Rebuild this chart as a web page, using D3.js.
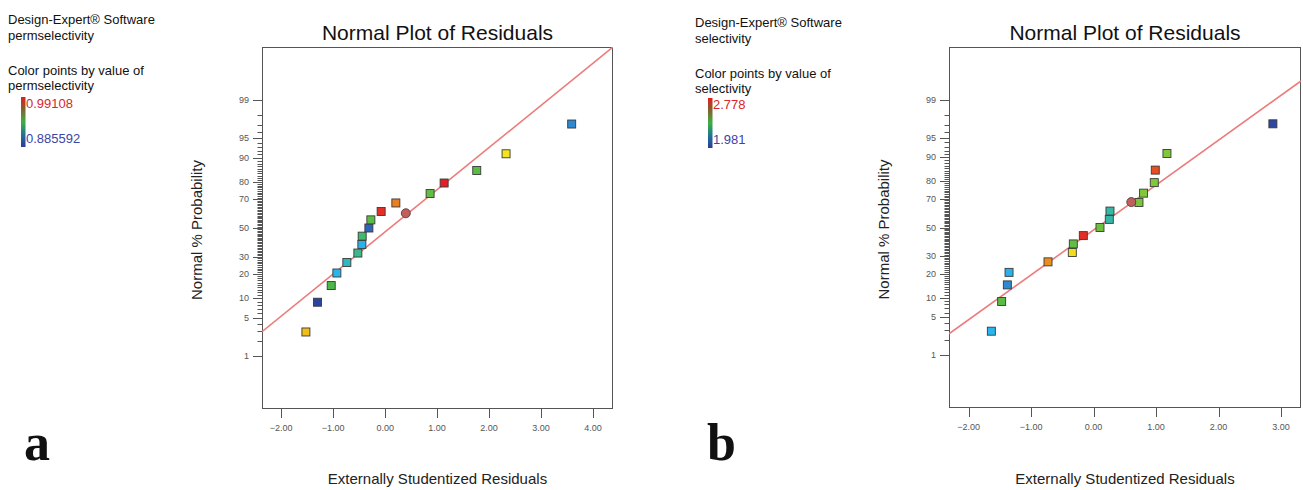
<!DOCTYPE html>
<html>
<head>
<meta charset="utf-8">
<script src="https://d3js.org/d3.v7.min.js"></script>
<style>
  html, body { margin: 0; padding: 0; background: #fff; }
  svg { display: block; }
</style>
</head>
<body>
<svg id="chart" width="1303" height="490"></svg>
<script>
// ---------- DATA ----------
const titleText = "Normal Plot of Residuals";
const xLabelText = "Externally Studentized Residuals";
const yLabelText = "Normal % Probability";
const probTicks = [1, 5, 10, 20, 30, 50, 70, 80, 90, 95, 99];

// Panel a : permselectivity
const xTicksA = [-2, -1, 0, 1, 2, 3, 4];
const residA = [-1.525, -1.302, -1.038, -0.929, -0.737, -0.525, -0.448, -0.442, -0.313, -0.275, -0.077, 0.206, 0.865, 1.135, 1.763, 2.327, 3.590];
const probA  = [2.9, 8.8, 14.7, 20.6, 26.5, 32.4, 38.2, 44.1, 50.0, 55.9, 61.8, 67.6, 73.5, 79.4, 85.3, 91.2, 97.1];
const valueA = [0.9700, 0.8877, 0.9383, 0.9120, 0.9193, 0.9278, 0.9109, 0.9320, 0.8961, 0.9404, 0.9890, 0.9784, 0.9415, 0.9911, 0.9404, 0.9647, 0.9035];
const circleResidA = [0.398];
const circleProbA = [60.6];
const lineA = [-0.07, 0.7685];           // z = intercept + slope * residual
const rangeA = [0.885592, 0.99108];
const legendA = ["Design-Expert\u00AE Software", "permselectivity", "Color points by value of", "permselectivity"];
const legendValsA = ["0.99108", "0.885592"];

// Panel b : selectivity
const xTicksB = [-2, -1, 0, 1, 2, 3];
const residB = [-1.637, -1.472, -1.381, -1.354, -0.730, -0.341, -0.325, -0.165, 0.102, 0.251, 0.262, 0.726, 0.800, 0.971, 0.987, 1.174, 2.870];
const probB  = [2.9, 8.8, 14.7, 20.6, 26.5, 32.4, 38.2, 44.1, 50.0, 55.9, 61.8, 67.6, 73.5, 79.4, 85.3, 91.2, 97.1];
const valueB = [2.180, 2.395, 2.117, 2.172, 2.666, 2.587, 2.403, 2.762, 2.419, 2.268, 2.268, 2.435, 2.443, 2.443, 2.730, 2.443, 2.005];
const circleResidB = [0.603];
const circleProbB = [67.9];
const lineB = [-0.045, 0.8204];
const rangeB = [1.981, 2.778];
const legendB = ["Design-Expert\u00AE Software", "selectivity", "Color points by value of", "selectivity"];
const legendValsB = ["2.778", "1.981"];

// ---------- HELPERS ----------
function probit(p) {
  // Acklam's inverse normal CDF approximation
  const a = [-3.969683028665376e+01, 2.209460984245205e+02, -2.759285104469687e+02, 1.383577518672690e+02, -3.066479806614716e+01, 2.506628277459239e+00];
  const b = [-5.447609879822406e+01, 1.615858368580409e+02, -1.556989798598866e+02, 6.680131188771972e+01, -1.328068155288572e+01];
  const c = [-7.784894002430293e-03, -3.223964580411365e-01, -2.400758277161838e+00, -2.549732539343734e+00, 4.374664141464968e+00, 2.938163982698783e+00];
  const d = [7.784695709041462e-03, 3.224671290700398e-01, 2.445134137142996e+00, 3.754408661907416e+00];
  const pl = 0.02425, ph = 1 - pl;
  let q, r;
  if (p < pl) {
    q = Math.sqrt(-2 * Math.log(p));
    return (((((c[0]*q+c[1])*q+c[2])*q+c[3])*q+c[4])*q+c[5]) / ((((d[0]*q+d[1])*q+d[2])*q+d[3])*q+1);
  } else if (p <= ph) {
    q = p - 0.5; r = q * q;
    return (((((a[0]*r+a[1])*r+a[2])*r+a[3])*r+a[4])*r+a[5])*q / (((((b[0]*r+b[1])*r+b[2])*r+b[3])*r+b[4])*r+1);
  } else {
    q = Math.sqrt(-2 * Math.log(1 - p));
    return -(((((c[0]*q+c[1])*q+c[2])*q+c[3])*q+c[4])*q+c[5]) / ((((d[0]*q+d[1])*q+d[2])*q+d[3])*q+1);
  }
}

const svg = d3.select("#chart");
const FONT = "'Liberation Sans', Arial, sans-serif";

function drawPanel(cfg) {
  const g = svg.append("g");
  const x = d3.scaleLinear().domain(cfg.xDomain).range([cfg.left, cfg.right]);
  const z = d3.scaleLinear().domain([-3.3, 3.3]).range([cfg.bottom, cfg.top]);
  const yP = p => z(probit(p / 100));

  const stops = ["#2c3b98", "#2f6cc0", "#27b7ee", "#4db848", "#f3e51b", "#e31e24"];
  const t = d3.scaleLinear().domain(cfg.valRange).range([0, 1]);
  const colorT = d3.scaleLinear().domain([0, 0.12, 0.25, 0.5, 0.75, 1]).range(stops).interpolate(d3.interpolateRgb);
  const color = v => colorT(t(v));

  // clip
  const clipId = "clip" + cfg.id;
  svg.append("clipPath").attr("id", clipId).append("rect")
    .attr("x", cfg.left).attr("y", cfg.top)
    .attr("width", cfg.right - cfg.left).attr("height", cfg.bottom - cfg.top);

  // minor y ticks
  const minor = d3.range(1, 100).filter(p => !probTicks.includes(p));
  g.append("g").selectAll("line").data(minor).join("line")
    .attr("x1", cfg.left - 4.5).attr("x2", cfg.left)
    .attr("y1", d => Math.round(yP(d)) + 0.5).attr("y2", d => Math.round(yP(d)) + 0.5)
    .attr("stroke", "#555").attr("stroke-width", 1);

  // major y ticks
  g.append("g").selectAll("line").data(probTicks).join("line")
    .attr("x1", cfg.left - 9).attr("x2", cfg.left)
    .attr("y1", d => Math.round(yP(d)) + 0.5).attr("y2", d => Math.round(yP(d)) + 0.5)
    .attr("stroke", "#555").attr("stroke-width", 1);
  g.append("g").selectAll("text").data(probTicks).join("text")
    .attr("x", cfg.left - 13).attr("y", d => yP(d) + 3)
    .attr("text-anchor", "end").attr("font-family", FONT).attr("font-size", 9)
    .attr("fill", "#555").text(d => d);

  // x axis ticks
  g.append("g").selectAll("line").data(cfg.xTicks).join("line")
    .attr("x1", d => Math.round(x(d)) + 0.5).attr("x2", d => Math.round(x(d)) + 0.5)
    .attr("y1", cfg.bottom).attr("y2", cfg.bottom + 9)
    .attr("stroke", "#555").attr("stroke-width", 1);
  g.append("g").selectAll("text").data(cfg.xTicks).join("text")
    .attr("x", d => x(d)).attr("y", cfg.bottom + 22)
    .attr("text-anchor", "middle").attr("font-family", FONT).attr("font-size", 9)
    .attr("fill", "#555").text(d => d3.format(".2f")(d));

  // frame
  g.append("rect")
    .attr("x", cfg.left + 0.5).attr("y", cfg.top + 0.5)
    .attr("width", cfg.right - cfg.left - 1).attr("height", cfg.bottom - cfg.top - 1)
    .attr("fill", "none").attr("stroke", "#555").attr("stroke-width", 1);

  // reference line
  const xd = x.domain();
  g.append("line")
    .attr("clip-path", `url(#${clipId})`)
    .attr("x1", x(xd[0])).attr("y1", z(cfg.line[0] + cfg.line[1] * xd[0]))
    .attr("x2", x(xd[1])).attr("y2", z(cfg.line[0] + cfg.line[1] * xd[1]))
    .attr("stroke", "#ec7b7b").attr("stroke-width", 1.6);

  // points
  const pts = cfg.resid.map((r, i) => ({ r, p: cfg.prob[i], v: cfg.vals[i] }));
  const s = 8;
  g.append("g").selectAll("rect").data(pts).join("rect")
    .attr("x", d => x(d.r) - s / 2).attr("y", d => yP(d.p) - s / 2)
    .attr("width", s).attr("height", s)
    .attr("fill", d => color(d.v)).attr("stroke", "#3a3a3a").attr("stroke-width", 0.9);

  const circ = cfg.cResid.map((r, i) => ({ r, p: cfg.cProb[i] }));
  g.append("g").selectAll("circle").data(circ).join("circle")
    .attr("cx", d => x(d.r)).attr("cy", d => yP(d.p)).attr("r", 4.5)
    .attr("fill", "#c15f5c").attr("stroke", "#5a3a3a").attr("stroke-width", 0.9);

  // title and labels
  g.append("text").attr("x", (cfg.left + cfg.right) / 2).attr("y", 40)
    .attr("text-anchor", "middle").attr("font-family", FONT).attr("font-size", 21)
    .attr("fill", "#111").text(titleText);
  g.append("text").attr("x", (cfg.left + cfg.right) / 2).attr("y", 484)
    .attr("text-anchor", "middle").attr("font-family", FONT).attr("font-size", 15)
    .attr("fill", "#222").text(xLabelText);
  g.append("text")
    .attr("transform", `translate(${cfg.yLabelX},${(cfg.top + cfg.bottom) / 2 + 2}) rotate(-90)`)
    .attr("text-anchor", "middle").attr("font-family", FONT).attr("font-size", 15)
    .attr("fill", "#222").text(yLabelText);

  // legend
  const L = cfg.legend;
  const lg = svg.append("g").attr("font-family", FONT).attr("font-size", 13).attr("fill", "#111");
  lg.append("text").attr("x", L.x).attr("y", L.y0).text(cfg.legendText[0]);
  lg.append("text").attr("x", L.x).attr("y", L.y0 + 15.5).text(cfg.legendText[1]);
  lg.append("text").attr("x", L.x).attr("y", L.y0 + 51).text(cfg.legendText[2]);
  lg.append("text").attr("x", L.x).attr("y", L.y0 + 66).text(cfg.legendText[3]);

  const gradId = "grad" + cfg.id;
  const grad = svg.append("defs").append("linearGradient").attr("id", gradId)
    .attr("x1", 0).attr("y1", 0).attr("x2", 0).attr("y2", 1);
  grad.append("stop").attr("offset", "0%").attr("stop-color", "#e0201e");
  grad.append("stop").attr("offset", "22%").attr("stop-color", "#8a5a2a");
  grad.append("stop").attr("offset", "50%").attr("stop-color", "#3cb043");
  grad.append("stop").attr("offset", "78%").attr("stop-color", "#1f6e9a");
  grad.append("stop").attr("offset", "100%").attr("stop-color", "#2c3b98");
  svg.append("rect").attr("x", L.barX).attr("y", L.barY).attr("width", 4.5).attr("height", 50)
    .attr("fill", `url(#${gradId})`);
  lg.append("text").attr("x", L.barX + 5).attr("y", L.barY + 11).attr("fill", "#d9262b").text(cfg.legendVals[0]);
  lg.append("text").attr("x", L.barX + 5).attr("y", L.barY + 46).attr("fill", "#3a45a8").text(cfg.legendVals[1]);

  // panel letter
  svg.append("text").attr("x", cfg.letterX).attr("y", 460)
    .attr("font-family", "'Liberation Serif', 'Times New Roman', serif")
    .attr("font-weight", "bold").attr("font-size", 52).attr("fill", "#111").text(cfg.letter);
}

drawPanel({
  id: "A", left: 262, right: 613, top: 47, bottom: 409,
  xDomain: [-2.37, 4.385], xTicks: xTicksA,
  resid: residA, prob: probA, vals: valueA, valRange: rangeA,
  cResid: circleResidA, cProb: circleProbA, line: lineA,
  yLabelX: 202,
  legend: { x: 8, y0: 24, barX: 21, barY: 97 },
  legendText: legendA, legendVals: legendValsA,
  letter: "a", letterX: 24
});

drawPanel({
  id: "B", left: 949, right: 1301, top: 47, bottom: 408,
  xDomain: [-2.315, 3.32], xTicks: xTicksB,
  resid: residB, prob: probB, vals: valueB, valRange: rangeB,
  cResid: circleResidB, cProb: circleProbB, line: lineB,
  yLabelX: 889,
  legend: { x: 695, y0: 27, barX: 708, barY: 98 },
  legendText: legendB, legendVals: legendValsB,
  letter: "b", letterX: 707
});
</script>
</body>
</html>
